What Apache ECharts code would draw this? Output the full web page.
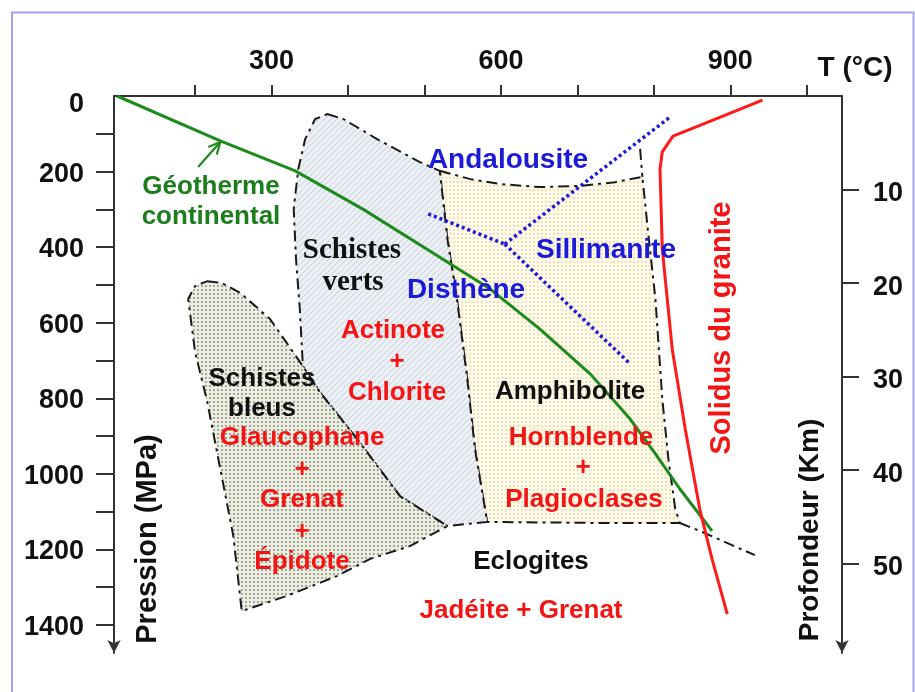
<!DOCTYPE html>
<html>
<head>
<meta charset="utf-8">
<script src="https://cdn.jsdelivr.net/npm/echarts@6/dist/echarts.min.js"></script>
<style>
  html, body { margin: 0; padding: 0; background: #fff; }
  #chart { width: 915px; height: 692px; }
</style>
</head>
<body>
<div id="chart"></div>
<script>
// ---- Data: every point is [temperature °C, pressure MPa] ----
const geotherm = [[98,0],[233,119],[331,198],[420,300],[507,410],[586,511],[651,617],[717,736],[769,855],[802,947],[834,1040],[876,1151]];
const geothermArrow = [[204,188],[233,122]];
const solidus = [[942,11],[887,56],[825,106],[811,148],[808,193],[811,405],[824,670],[841,881],[860,1093],[876,1225],[896,1371]];

const blueschist = [[216,490],[235,495],[259,521],[298,590],[341,715],[363,783],[412,908],[468,1059],[530,1138],
  [481,1191],[429,1225],[386,1270],[320,1323],[261,1363],[250,1164],[233,987],[216,810],[200,677],[191,537],[200,503]];
const greenschist = [[373,48],[394,61],[438,114],[494,175],[520,198],[530,378],[543,545],[556,749],[566,934],[582,1127],
  [530,1138],[468,1059],[412,908],[363,783],[341,715],[337,564],[332,431],[329,299],[335,193],[344,114],[357,61]];
const amphibolite = [[520,198],[560,220],[599,233],[651,241],[704,238],[749,228],[785,214],[792,352],[802,537],[811,802],
  [819,961],[828,1093],[834,1130],[730,1130],[582,1127],[566,934],[556,749],[543,545],[530,378]];
const amphiboliteCap = [[782,140],[785,214]];
const eclogiteEdge = [[834,1130],[860,1151],[932,1215]];

// Al2SiO5 polymorph boundaries
const andalousiteDisthene = [[505,312],[605,392]];
const andalousiteSillimanite = [[605,392],[821,56]];
const disthenesSillimanite = [[605,392],[769,709]];

// Axis ticks and labels
const tempTicks = [200,300,400,500,600,700,800,900,1000];
const tempLabels = [300,600,900];
const pressTicks = [100,200,300,400,500,600,700,800,900,1000,1100,1200,1300,1400];
const pressLabels = [0,200,400,600,800,1000,1200,1400];
const depthTicks = [10,20,30,40,50];

// ---- Fill patterns ----
function patternCanvas(size, bg, paint) {
  const c = document.createElement('canvas');
  c.width = c.height = size;
  const ctx = c.getContext('2d');
  ctx.fillStyle = bg;
  ctx.fillRect(0, 0, size, size);
  paint(ctx, size);
  return { image: c, repeat: 'repeat' };
}
const greyDots = patternCanvas(4, '#eceee4', (ctx) => { ctx.fillStyle = '#a4a997'; ctx.fillRect(1, 1, 2, 2); });
const blueHatch = patternCanvas(6, '#eef2f6', (ctx, s) => {
  ctx.strokeStyle = '#d3dbe4'; ctx.lineWidth = 1.4; ctx.beginPath();
  ctx.moveTo(0, s); ctx.lineTo(s, 0);
  ctx.moveTo(-1, 1); ctx.lineTo(1, -1);
  ctx.moveTo(s - 1, s + 1); ctx.lineTo(s + 1, s - 1);
  ctx.stroke();
});
const creamDots = patternCanvas(4, '#fdfaec', (ctx) => { ctx.fillStyle = '#ece2b6'; ctx.fillRect(1, 1, 2, 2); });

const FONT = "'Liberation Sans', Arial, Helvetica, sans-serif";
const SERIF = "'Liberation Serif', 'Times New Roman', serif";
const GREEN = '#1c7d1c', RED = '#f51414', BLUE = '#1a1ad8', BLACK = '#111111';
const dashDot = [11, 5, 3, 5];

function regionSeries(name, pts, fill) {
  return {
    type: 'custom', name, silent: true, data: pts, z: 1,
    renderItem(params, api) {
      if (params.dataIndex !== 0) return;
      return {
        type: 'polygon',
        shape: { points: pts.map((p) => api.coord(p)) },
        style: { fill, stroke: '#1a1a1a', lineWidth: 2, lineDash: dashDot }
      };
    }
  };
}
function lineSeries(name, pts, style, z) {
  return {
    type: 'line', name, data: pts, showSymbol: false, symbol: 'none', silent: true,
    z: z || 3, lineStyle: style, smooth: false, clip: false
  };
}

const label = (text, x, y, color, size, extra) => Object.assign({
  type: 'text', x, y, silent: true, z: 100,
  style: {
    text, fill: color, font: `bold ${size}px ${FONT}`,
    align: 'center', verticalAlign: 'middle', textAlign: 'center', textVerticalAlign: 'middle'
  }
}, extra || {});
const serifLabel = (text, x, y) => {
  const el = label(text, x, y, BLACK, 29);
  el.style.font = `bold 29px ${SERIF}`;
  return el;
};

const chart = echarts.init(document.getElementById('chart'), null, { renderer: 'canvas' });

const axisLineStyle = { color: '#333', width: 2 };
const tickLabel = { fontSize: 27, fontWeight: 'bold', color: BLACK, fontFamily: FONT };
const plain = (v) => String(v);

chart.setOption({
  animation: false,
  backgroundColor: '#ffffff',
  grid: { left: 114, right: 73, top: 96, bottom: 39, containLabel: false, outerBoundsMode: 'none' },
  xAxis: {
    type: 'value', position: 'top', min: 94, max: 1046,
    axisLine: { show: true, onZero: false, lineStyle: axisLineStyle },
    axisTick: { show: true, customValues: tempTicks, length: 11, lineStyle: axisLineStyle },
    axisLabel: Object.assign({ customValues: tempLabels, margin: 21, formatter: plain }, tickLabel),
    splitLine: { show: false }
  },
  yAxis: [{
    type: 'value', inverse: true, position: 'left', min: 0, max: 1474,
    axisLine: { show: true, onZero: false, symbol: ['arrow', 'none'], symbolSize: [10, 13], lineStyle: axisLineStyle },
    axisTick: { show: true, customValues: pressTicks, length: 18, lineStyle: axisLineStyle },
    axisLabel: Object.assign({
      customValues: pressLabels, margin: 30, padding: [5, 0, 0, 0],
      formatter: (v) => (v === 0 ? '{zero|0}' : String(v)),
      rich: { zero: { fontSize: 27, fontWeight: 'bold', color: BLACK, fontFamily: FONT, padding: [12, 0, 0, 0] } }
    }, tickLabel),
    splitLine: { show: false }
  }, {
    type: 'value', inverse: true, position: 'right', min: 0, max: 59.6,
    axisLine: { show: true, onZero: false, symbol: ['arrow', 'none'], symbolSize: [10, 13], lineStyle: axisLineStyle },
    axisTick: { show: true, customValues: depthTicks, length: 17, lineStyle: axisLineStyle },
    axisLabel: Object.assign({
      customValues: depthTicks, margin: 31,
      formatter: (v) => '{d|' + v + '}',
      rich: { d: { fontSize: 27, fontWeight: 'bold', color: BLACK, fontFamily: FONT, padding: [9, 0, 0, 0] } }
    }, tickLabel),
    splitLine: { show: false }
  }],
  series: [
    regionSeries('Amphibolite', amphibolite, creamDots),
    regionSeries('Schistes verts', greenschist, blueHatch),
    regionSeries('Schistes bleus', blueschist, greyDots),
    lineSeries('amphibolite cap', amphiboliteCap, { color: '#1a1a1a', width: 2, type: dashDot }),
    lineSeries('eclogite edge', eclogiteEdge, { color: '#1a1a1a', width: 2, type: dashDot }),
    lineSeries('And-Dis', andalousiteDisthene, { color: BLUE, width: 3.5, type: [3, 3] }),
    lineSeries('And-Sil', andalousiteSillimanite, { color: BLUE, width: 3.5, type: [3, 3] }),
    lineSeries('Dis-Sil', disthenesSillimanite, { color: BLUE, width: 3.5, type: [3, 3] }),
    lineSeries('Géotherme continental', geotherm, { color: '#1d8a1d', width: 3 }, 4),
    lineSeries('Solidus du granite', solidus, { color: '#ff1a1a', width: 3 }, 4),
    {
      type: 'custom', name: 'geotherm arrow', silent: true, data: geothermArrow, z: 4,
      renderItem(params, api) {
        if (params.dataIndex !== 0) return;
        const a = api.coord(geothermArrow[0]);
        const b = api.coord(geothermArrow[1]);
        const ang = Math.atan2(b[1] - a[1], b[0] - a[0]);
        const head = (len, spread) => [
          [b[0] - len * Math.cos(ang - spread), b[1] - len * Math.sin(ang - spread)],
          b,
          [b[0] - len * Math.cos(ang + spread), b[1] - len * Math.sin(ang + spread)]
        ];
        const st = { stroke: '#1d8a1d', lineWidth: 2.2, fill: null };
        return {
          type: 'group',
          children: [
            { type: 'line', shape: { x1: a[0], y1: a[1], x2: b[0], y2: b[1] }, style: st },
            { type: 'polyline', shape: { points: head(13, 0.45) }, style: st }
          ]
        };
      }
    }
  ],
  graphic: [
    { type: 'polyline', silent: true, z: 0, shape: { points: [[12, 700], [12, 12.5], [913.5, 12.5], [913.5, 700]] },
      style: { stroke: '#a3a3ee', lineWidth: 2, fill: null } },
    label('T (°C)', 855, 68, BLACK, 28),
    label('Pression (MPa)', 148, 539, BLACK, 29, { rotation: Math.PI / 2 }),
    label('Profondeur (Km)', 810, 530, BLACK, 28, { rotation: Math.PI / 2 }),
    label('Solidus du granite', 722, 328, RED, 29, { rotation: Math.PI / 2 }),
    label('Géotherme', 211, 187, GREEN, 26),
    label('continental', 211, 217, GREEN, 26),
    label('Andalousite', 508, 160, BLUE, 28),
    label('Sillimanite', 606, 250, BLUE, 28),
    label('Disthène', 466, 290, BLUE, 28),
    serifLabel('Schistes', 352, 251),
    serifLabel('verts', 353, 283),
    label('Actinote', 393, 331, RED, 26),
    label('+', 397, 362, RED, 26),
    label('Chlorite', 397, 393, RED, 26),
    label('Schistes', 262, 379, BLACK, 26),
    label('bleus', 262, 409, BLACK, 26),
    label('Glaucophane', 302, 438, RED, 26),
    label('+', 302, 470, RED, 26),
    label('Grenat', 302, 500, RED, 26),
    label('+', 302, 532, RED, 26),
    label('Épidote', 302, 562, RED, 26),
    label('Amphibolite', 570, 392, BLACK, 26),
    label('Hornblende', 581, 438, RED, 26),
    label('+', 583, 468, RED, 26),
    label('Plagioclases', 584, 500, RED, 26),
    label('Eclogites', 531, 562, BLACK, 26),
    label('Jadéite + Grenat', 521, 611, RED, 26)
  ]
});
</script>
</body>
</html>
